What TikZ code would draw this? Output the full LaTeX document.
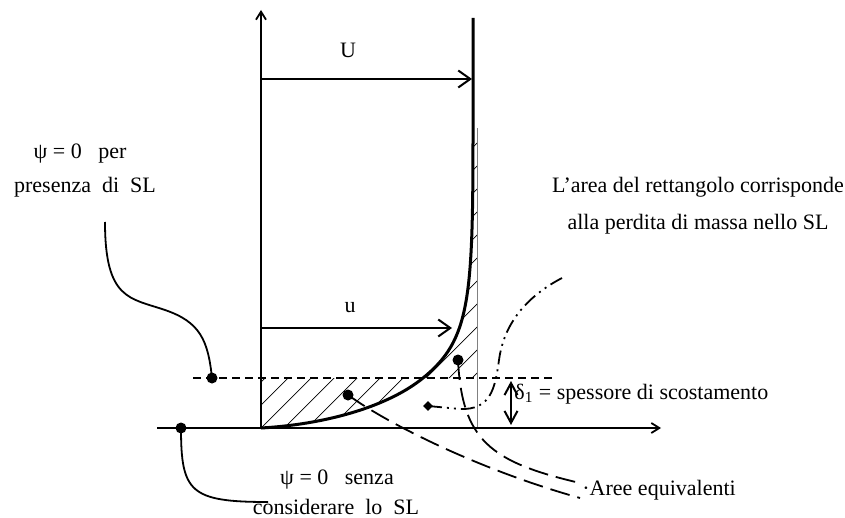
\documentclass[tikz,border=0pt]{standalone}
\usepackage{fontspec}
\setmainfont{Liberation Serif}
\usetikzlibrary{
  arrows.meta,
  positioning,
  shapes.geometric
}
\tikzset{
  axis/.style = {line width=0.9pt, -{Straight Barb[length=4pt,width=5pt]}},
  vel/.style = {line width=1pt, -{Straight Barb[length=6pt,width=8.5pt]}},
  thick2/.style = {line width=1pt, {Straight Barb[length=6pt,width=6.5pt]}-{Straight Barb[length=6pt,width=6.5pt]}},
  profile/.style = {line width=1.5pt},
  blob/.style = {circle, fill, inner sep=0pt, minimum size=5.5pt},
  tip/.style = {diamond, fill, inner sep=0pt, minimum size=5pt},
  lead/.style = {line width=0.9pt},
  shortdash/.style = {line width=0.6pt, dash pattern=on 4pt off 2.5pt},
  longdash/.style = {line width=0.9pt, dash pattern=on 10pt off 4pt},
  dashdotdot/.style = {line width=0.9pt, dash pattern=on 7pt off 2.5pt on 1pt off 2.5pt on 1pt off 2.5pt},
  hatch/.style = {line width=0.35pt},
  lbl/.style = {font=\fontsize{11}{13}\selectfont, inner sep=0pt, anchor=base},
}

\begin{document}
\begin{tikzpicture}[x=0.5pt, y=-0.5pt]
  \useasboundingbox (0,0) rectangle (845,518);

  \coordinate (O) at (261,428);
  \coordinate (ytop) at (261,10);
  \coordinate (xleft) at (157,428);
  \coordinate (xright) at (661,428);
  \coordinate (M) at (423,378);
  \coordinate (P) at (473,130);
  \coordinate (Ptop) at (473,18);

  % tratteggio
  \begin{scope}
    \clip (261,378) -- (O) .. controls (330,424) and (390,405) .. (M) -- cycle;
    \foreach \a in {146,169,...,790}
      \draw[hatch] (\a,428) -- ++(330,-330);
  \end{scope}
  \begin{scope}
    \clip (M) .. controls (470,340) and (473,300) .. (P) -- (477,130) -- (477,378) -- cycle;
    \foreach \a in {146,169,...,790}
      \draw[hatch] (\a,428) -- ++(330,-330);
  \end{scope}

  \coordinate (rtop) at (477,128);
  \coordinate (rbot) at (477,428);
  \draw[gray, line width=0.5pt] (rtop) -- (rbot);

  \draw[axis] (xleft) -- (xright);
  \draw[axis] (O) -- (ytop);
  \draw[profile] (O) .. controls (330,424) and (390,405) .. (M)
    .. controls (470,340) and (473,300) .. (P) -- (Ptop);

  \coordinate (Ua) at (261,79);
  \coordinate (Ub) at (472,79);
  \draw[vel] (Ua) -- (Ub);
  \node[lbl] (U) at (348,58) {U};

  \coordinate (ua) at (261,328);
  \coordinate (ub) at (452,328);
  \draw[vel] (ua) -- (ub);
  \node[lbl] (u) at (350,312) {u};

  \coordinate (sl1) at (193,378);
  \coordinate (sl2) at (553,378);
  \draw[shortdash] (sl1) -- (sl2);

  \node[blob] (d1) at (212,378) {};
  \node[blob] (d2) at (181,428) {};
  \node[blob] (d3) at (348,395) {};
  \node[blob] (d4) at (458,360) {};
  \node[tip] (d5) at (428,406) {};

  \coordinate (l1) at (105,222);
  \coordinate (l2) at (268,502);
  \draw[lead] (d1.center) .. controls (208,340) and (200,322) .. (165,310)
    .. controls (130,298) and (105,300) .. (l1);
  \draw[lead] (d2.center) .. controls (181,492) and (190,502) .. (l2);

  \coordinate (ae1) at (580,498);
  \coordinate (ae2) at (580,483);
  \draw[longdash] (d3.center) .. controls (390,425) and (480,470) .. (ae1);
  \draw[longdash] (d4.center) .. controls (462,440) and (490,462) .. (ae2);

  \coordinate (dd) at (562,278);
  \draw[dashdotdot] (d5.center) -- (460,409) .. controls (490,410) and (495,390) .. (499,360)
    .. controls (503,330) and (520,300) .. (dd);

  \coordinate (s1) at (511,381);
  \coordinate (s2) at (511,425);
  \draw[thick2] (s1) -- (s2);

  \node[lbl] (psiA) at (80,159) {ψ = 0\ \ \ per};
  \node[lbl] (psiB) at (85,193) {presenza\ \ di\ \ SL};
  \node[lbl] (areaA) at (698,192) {L’area del rettangolo corrisponde};
  \node[lbl] (areaB) at (698,229) {alla perdita di massa nello SL};
  \node[lbl, anchor=base west] (delta) at (514,399) {δ\textsubscript{1} = spessore di scostamento};
  \node[lbl] (psiC) at (337,484) {ψ = 0\ \ \ senza};
  \node[lbl] (psiD) at (336,514) {considerare\ \ lo\ \ SL};
  \node[lbl, anchor=base west] (aree) at (582,495) {·Aree equivalenti};
\end{tikzpicture}
\end{document}
